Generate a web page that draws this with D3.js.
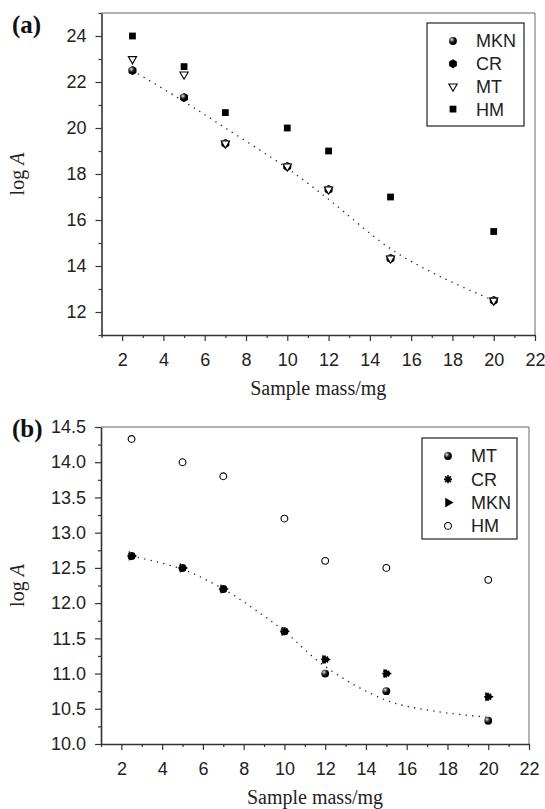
<!DOCTYPE html>
<html>
<head>
<meta charset="utf-8">
<style>
    body { margin: 0; background: #fff; }
    svg { display: block; }
    .axis text { font-family: "Liberation Sans", Arial, sans-serif; font-size: 18px; fill: #222; }
    .axis path, .axis line { stroke: #333; }
    .axis path { stroke-width: 1.6px; }
    .axis line { stroke-width: 1.2px; }
    .frame { fill: none; stroke: #666; stroke-width: 1px; }
    .title { font-family: "Liberation Serif", "Times New Roman", serif; font-size: 20px; fill: #222; }
    .plabel { font-family: "Liberation Serif", "Times New Roman", serif; font-size: 25px; font-weight: bold; fill: #111; }
    .legend text { font-family: "Liberation Sans", Arial, sans-serif; font-size: 18px; fill: #222; }
    .fit { fill: none; stroke: #222; stroke-width: 1.3px; stroke-dasharray: 1.3 5.2; }
</style>
</head>
<body>
<svg width="545" height="809">
    <defs>
        <radialGradient id="ball" cx="35%" cy="32%" r="65%">
            <stop offset="0%" stop-color="#eee" />
            <stop offset="35%" stop-color="#555" />
            <stop offset="70%" stop-color="#000" />
        </radialGradient>
    </defs>
</svg>
<script src="https://d3js.org/d3.v7.min.js"></script>
<script>
    // sample mass (mg)
    var mass = [2.5, 5, 7, 10, 12, 15, 20];

    // panel (a)
    var mknA = [22.5, 21.33, 19.33, 18.33, 17.33, 14.33, 12.5];
    var crA = [22.5, 21.33, 19.33, 18.33, 17.33, 14.33, 12.5];
    var mtA = [23, 22.33, 19.33, 18.33, 17.33, 14.33, 12.5];
    var hmA = [24, 22.67, 20.67, 20, 19, 17, 15.5];
    var fitXA = [2.5, 5, 7, 10, 12, 15, 17.5, 20];
    var fitYA = [22.5, 21.15, 20.0, 18.25, 16.9, 14.75, 13.5, 12.5];

    // panel (b)
    var mtB = [12.67, 12.5, 12.2, 11.6, 11.0, 10.75, 10.33];
    var crB = [12.67, 12.5, 12.2, 11.6, 11.2, 11.0, 10.67];
    var mknB = [12.67, 12.5, 12.2, 11.6, 11.2, 11.0, 10.67];
    var hmB = [14.33, 14.0, 13.8, 13.2, 12.6, 12.5, 12.33];
    var fitXB = [2.5, 5, 7, 8.5, 10, 12, 15, 17.5, 20];
    var fitYB = [12.67, 12.48, 12.2, 11.92, 11.6, 11.1, 10.62, 10.46, 10.38];

    var xTicks = [2, 4, 6, 8, 10, 12, 14, 16, 18, 20, 22];

    var svg = d3.select("svg");

    // marker shapes
    var hexagon = {
        draw: function (ctx, size) {
            var r = Math.sqrt(size / 2.598);
            for (var i = 0; i < 6; i++) {
                var a = Math.PI / 6 + i * Math.PI / 3;
                if (i == 0) ctx.moveTo(r * Math.cos(a), r * Math.sin(a));
                else ctx.lineTo(r * Math.cos(a), r * Math.sin(a));
            }
            ctx.closePath();
        }
    };
    var star = {
        draw: function (ctx, size) {
            var r = Math.sqrt(size) / 2;
            for (var i = 0; i < 4; i++) {
                var a = i * Math.PI / 4;
                ctx.moveTo(-r * Math.cos(a), -r * Math.sin(a));
                ctx.lineTo(r * Math.cos(a), r * Math.sin(a));
            }
        }
    };

    var markers = {
        ball: function (g) {
            g.append("circle").attr("r", 3.9).attr("fill", "url(#ball)");
        },
        hex: function (g) {
            g.append("path").attr("d", d3.symbol(hexagon, 52)()).attr("fill", "#000");
        },
        triDown: function (g) {
            g.append("path").attr("d", d3.symbol(d3.symbolTriangle, 30)())
                .attr("transform", "rotate(180)")
                .attr("fill", "#fff").attr("stroke", "#000").attr("stroke-width", 1.1);
        },
        square: function (g) {
            g.append("path").attr("d", d3.symbol(d3.symbolSquare, 46)()).attr("fill", "#000");
        },
        star: function (g) {
            g.append("path").attr("d", d3.symbol(star, 64)())
                .attr("fill", "none").attr("stroke", "#000").attr("stroke-width", 1.7);
            g.append("circle").attr("r", 1.6).attr("fill", "#000");
        },
        triRight: function (g) {
            g.append("path").attr("d", d3.symbol(d3.symbolTriangle, 40)())
                .attr("transform", "rotate(90)").attr("fill", "#000");
        },
        ring: function (g) {
            g.append("circle").attr("r", 3.4)
                .attr("fill", "#fff").attr("stroke", "#000").attr("stroke-width", 1.1);
        }
    };

    function drawPanel(p) {
        var x = d3.scaleLinear().domain([1, 22]).range([p.left, p.right]);
        var y = d3.scaleLinear().domain(p.yDomain).range([p.bottom, p.top]);

        // frame (top / right)
        svg.append("path").attr("class", "frame")
            .attr("d", "M" + p.left + "," + p.top + "H" + p.right + "V" + p.bottom);

        // minor ticks
        svg.append("g").attr("class", "axis")
            .attr("transform", "translate(0," + p.bottom + ")")
            .call(d3.axisBottom(x).tickValues(d3.range(1, 22, 2)).tickSize(3).tickFormat(""))
            .select(".domain").remove();
        svg.append("g").attr("class", "axis")
            .attr("transform", "translate(" + p.left + ",0)")
            .call(d3.axisLeft(y).tickValues(p.yMinor).tickSize(3).tickFormat(""))
            .select(".domain").remove();

        // major axes
        svg.append("g").attr("class", "axis")
            .attr("transform", "translate(0," + p.bottom + ")")
            .call(d3.axisBottom(x).tickValues(xTicks).tickSize(6).tickPadding(12).tickSizeOuter(0));
        svg.append("g").attr("class", "axis")
            .attr("transform", "translate(" + p.left + ",0)")
            .call(d3.axisLeft(y).tickValues(p.yMajor).tickSize(6).tickPadding(9)
                .tickSizeOuter(0).tickFormat(d3.format(p.yFormat)));

        // axis titles
        svg.append("text").attr("class", "title")
            .attr("x", (p.left + p.right) / 2).attr("y", p.bottom + 60)
            .attr("text-anchor", "middle").text("Sample mass/mg");
        var yl = svg.append("text").attr("class", "title")
            .attr("text-anchor", "middle")
            .attr("transform", "translate(24," + (p.top + p.bottom) / 2 + ") rotate(-90)");
        yl.append("tspan").text("log ");
        yl.append("tspan").attr("font-style", "italic").text("A");

        svg.append("text").attr("class", "plabel")
            .attr("x", 12).attr("y", p.labelY).text(p.label);

        // fit curve
        var line = d3.line().curve(d3.curveCatmullRom.alpha(0.5))
            .x(function (d) { return x(d[0]); })
            .y(function (d) { return y(d[1]); });
        svg.append("path").attr("class", "fit")
            .attr("d", line(d3.zip(p.fitX, p.fitY)));

        // points
        p.series.forEach(function (s) {
            svg.append("g").selectAll("g")
                .data(d3.zip(mass, s.values))
                .enter().append("g")
                .attr("transform", function (d) { return "translate(" + x(d[0]) + "," + y(d[1]) + ")"; })
                .each(function () { markers[s.marker](d3.select(this)); });
        });

        // legend
        var lg = svg.append("g").attr("class", "legend");
        lg.append("rect")
            .attr("x", p.legend.x).attr("y", p.legend.y)
            .attr("width", p.legend.w).attr("height", p.legend.h)
            .attr("fill", "#fff").attr("stroke", "#222").attr("stroke-width", 1.2);
        p.legendOrder.forEach(function (s, i) {
            var cy = p.legend.y + 18 + i * p.legend.step;
            var m = lg.append("g").attr("transform", "translate(" + (p.legend.x + 26) + "," + cy + ")");
            markers[s.marker](m);
            lg.append("text").attr("x", p.legend.x + 49).attr("y", cy).attr("dy", "0.36em").text(s.name);
        });
    }

    var seriesA = {
        mkn: { name: "MKN", values: mknA, marker: "ball" },
        cr: { name: "CR", values: crA, marker: "hex" },
        mt: { name: "MT", values: mtA, marker: "triDown" },
        hm: { name: "HM", values: hmA, marker: "square" }
    };
    var seriesB = {
        mt: { name: "MT", values: mtB, marker: "ball" },
        cr: { name: "CR", values: crB, marker: "star" },
        mkn: { name: "MKN", values: mknB, marker: "triRight" },
        hm: { name: "HM", values: hmB, marker: "ring" }
    };

    drawPanel({
        label: "(a)", labelY: 33,
        left: 101.5, right: 535, top: 13, bottom: 335,
        yDomain: [11, 25], yMajor: [12, 14, 16, 18, 20, 22, 24],
        yMinor: [11, 13, 15, 17, 19, 21, 23, 25], yFormat: "d",
        fitX: fitXA, fitY: fitYA,
        series: [seriesA.cr, seriesA.mkn, seriesA.mt, seriesA.hm],
        legendOrder: [seriesA.mkn, seriesA.cr, seriesA.mt, seriesA.hm],
        legend: { x: 427, y: 23, w: 97, h: 103, step: 22.7 }
    });

    drawPanel({
        label: "(b)", labelY: 437,
        left: 101, right: 529, top: 427, bottom: 744,
        yDomain: [10, 14.5], yMajor: d3.range(10, 14.51, 0.5),
        yMinor: d3.range(10.25, 14.5, 0.5), yFormat: ".1f",
        fitX: fitXB, fitY: fitYB,
        series: [seriesB.hm, seriesB.mkn, seriesB.mt, seriesB.cr],
        legendOrder: [seriesB.mt, seriesB.cr, seriesB.mkn, seriesB.hm],
        legend: { x: 422, y: 438, w: 95, h: 101, step: 23.3 }
    });
</script>
</body>
</html>
